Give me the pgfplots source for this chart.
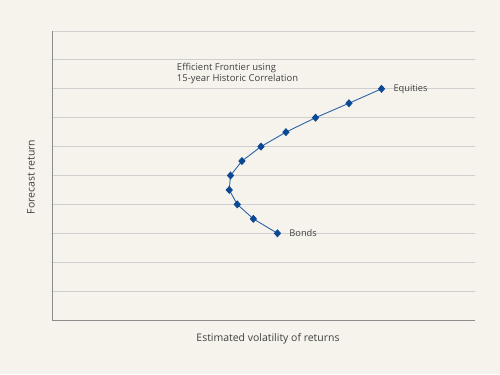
\documentclass[border=0pt]{standalone}
\usepackage{pgfplots}
\pgfplotsset{compat=1.18}
\usepackage{fontspec}
\setmainfont{Open Sans}
\definecolor{bg}{HTML}{F5F3EC}
\definecolor{gridc}{HTML}{CFCFCF}
\definecolor{axc}{HTML}{8C8C8C}
\definecolor{linec}{HTML}{2A64A8}
\definecolor{markc}{HTML}{0B4894}
\definecolor{txt}{HTML}{404040}
\begin{document}
\begin{tikzpicture}[x=1bp,y=1bp]
\fill[bg] (0,0) rectangle (500,374);
\node[txt,font=\fontsize{10.5}{12}\selectfont,rotate=90] at (31,197) {Forecast return};
\node[txt,font=\fontsize{10.5}{12}\selectfont] at (268,35) {Estimated volatility of returns};
\begin{axis}[
  at={(52bp,54bp)}, anchor=south west,
  scale only axis, width=423bp, height=289bp,
  xmin=0, xmax=10, ymin=0, ymax=10,
  axis x line*=bottom, axis y line*=left,
  axis line style={axc, line width=0.8pt, -},
  xtick=\empty, ytick={1,...,10},
  yticklabels={}, major tick length=0pt,
  ymajorgrids, grid style={gridc, line width=0.8pt},
  clip=false,
]
\addplot[linec, line width=0.9pt, mark=diamond*, mark size=3.4pt,
  mark options={fill=markc, draw=markc, xscale=1.2}] coordinates {
  (7.79,8.0) (7.02,7.5) (6.23,7.0) (5.53,6.5) (4.94,6.0) (4.49,5.5)
  (4.22,5.0) (4.19,4.5) (4.38,4.0) (4.76,3.5) (5.33,3.0)
};
\node[txt,anchor=west,font=\fontsize{9.3}{11}\selectfont] at (axis cs:7.99,8.0) {Equities};
\node[txt,anchor=west,font=\fontsize{9.3}{11}\selectfont] at (axis cs:5.53,3.0) {Bonds};
\node[txt,anchor=north west,align=left,font=\fontsize{9.5}{11.5}\selectfont,inner sep=0pt] at (axis cs:2.95,8.9) {Efficient Frontier using\\15-year Historic Correlation};
\end{axis}
\end{tikzpicture}
\end{document}
